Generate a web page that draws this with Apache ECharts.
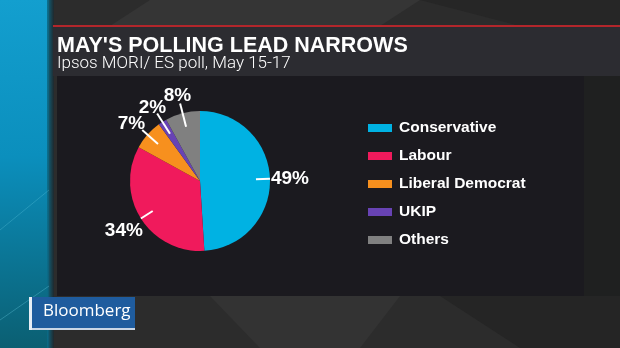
<!DOCTYPE html>
<html>
<head>
<meta charset="utf-8">
<script src="https://cdn.jsdelivr.net/npm/echarts@6/dist/echarts.min.js"></script>
<style>
  html, body { margin: 0; padding: 0; background: #2b2b2b; }
  #chart { width: 620px; height: 348px; }
</style>
</head>
<body>
<div id="chart"></div>
<script>
// Poll shares (%)
const parties = ['Conservative', 'Labour', 'Liberal Democrat', 'UKIP', 'Others'];
const shares = [49, 34, 7, 2, 8];
const partyColors = ['#00b2e3', '#f01a5c', '#f7901e', '#6843b4', '#808080'];

const titleText = "MAY'S POLLING LEAD NARROWS";
const subtitleText = 'Ipsos MORI/ ES poll, May 15-17';
const brandText = 'Bloomberg';

// leader line length per slice and nudges for the value labels
const leaderLen = [14, 14, 21, 24, 24];
const labelNudge = [[0, 0], [3, 12], [4, -6], [10, -6], [12, -8]];

const pieCenter = [200, 181];
const pieRadius = 70;

const chart = echarts.init(document.getElementById('chart'), null, { renderer: 'canvas' });

const sliceData = parties.map((name, i) => ({
  name: name,
  value: shares[i],
  itemStyle: { color: partyColors[i] }
}));

const labelData = parties.map((name, i) => ({
  name: name,
  value: shares[i],
  labelLine: { length: leaderLen[i], length2: 0 }
}));

const bg = [
  // charcoal backdrop
  { type: 'rect', z: -10, shape: { x: 0, y: 0, width: 620, height: 348 }, style: { fill: '#2c2c2c' } },
  // faceted top band
  { type: 'polygon', z: -9, shape: { points: [[150, 0], [420, 0], [380, 26], [110, 26]] }, style: { fill: '#353535' } },
  { type: 'polygon', z: -9, shape: { points: [[420, 0], [620, 0], [620, 26], [520, 26]] }, style: { fill: '#262626' } },
  // faceted bottom band
  { type: 'polygon', z: -9, shape: { points: [[210, 296], [400, 296], [360, 348], [260, 348]] }, style: { fill: '#333333' } },
  { type: 'polygon', z: -9, shape: { points: [[440, 296], [620, 296], [620, 348], [520, 348]] }, style: { fill: '#252525' } },
  // right margin
  { type: 'rect', z: -9, shape: { x: 584, y: 76, width: 36, height: 220 }, style: { fill: '#1f2020' } },
  // teal strip on the left
  {
    type: 'rect', z: -8, shape: { x: 0, y: 0, width: 49, height: 348 },
    style: {
      fill: new echarts.graphic.LinearGradient(0, 0, 0.3, 1, [
        { offset: 0, color: '#139fcf' },
        { offset: 0.45, color: '#0b8fbd' },
        { offset: 1, color: '#0b5f72' }
      ])
    }
  },
  {
    type: 'rect', z: -8, shape: { x: 47, y: 0, width: 7, height: 348 },
    style: {
      fill: new echarts.graphic.LinearGradient(0, 0, 1, 0, [
        { offset: 0, color: 'rgba(10,110,140,0.9)' },
        { offset: 1, color: 'rgba(30,40,45,0.9)' }
      ])
    }
  },
  { type: 'line', z: -7, shape: { x1: 0, y1: 230, x2: 49, y2: 190 }, style: { stroke: 'rgba(120,220,240,0.25)', lineWidth: 1 } },
  { type: 'line', z: -7, shape: { x1: 0, y1: 320, x2: 49, y2: 286 }, style: { stroke: 'rgba(120,220,240,0.3)', lineWidth: 1 } },
  // red rule and title panel
  { type: 'rect', z: -6, shape: { x: 53, y: 25, width: 567, height: 2 }, style: { fill: '#b3262b' } },
  { type: 'rect', z: -6, shape: { x: 53, y: 27, width: 567, height: 49 }, style: { fill: '#2c2c31' } },
  // chart panel
  { type: 'rect', z: -6, shape: { x: 57, y: 76, width: 527, height: 220 }, style: { fill: '#1b1a1f' } },
  // heading
  {
    type: 'text', z: 5, x: 57, y: 35,
    style: { text: titleText, fill: '#ffffff', font: 'bold 21.5px "Liberation Sans", Arial, sans-serif' }
  },
  {
    type: 'text', z: 5, x: 57, y: 55,
    style: { text: subtitleText, fill: '#ffffff', font: '300 17px Roboto, "Liberation Sans", sans-serif' }
  },
  // brand tag
  { type: 'rect', z: 5, shape: { x: 29, y: 297, width: 3, height: 33 }, style: { fill: '#e8eef5' } },
  { type: 'rect', z: 5, shape: { x: 32, y: 297, width: 103, height: 31 }, style: { fill: '#1f5c9e' } },
  { type: 'rect', z: 5, shape: { x: 32, y: 328, width: 103, height: 2 }, style: { fill: '#c9d6e6' } },
  {
    type: 'text', z: 6, x: 43, y: 303,
    style: { text: brandText, fill: '#ffffff', font: '500 17px "Open Sans", "Noto Sans", sans-serif' }
  }
];

chart.setOption({
  animation: false,
  backgroundColor: 'transparent',
  graphic: { elements: bg },
  legend: {
    data: parties,
    orient: 'vertical',
    left: 363,
    top: 115,
    itemWidth: 24,
    itemHeight: 8,
    itemGap: 12,
    icon: 'rect',
    selectedMode: false,
    textStyle: {
      color: '#ffffff',
      fontSize: 15.5,
      lineHeight: 16,
      fontWeight: 'bold',
      fontFamily: '"Liberation Sans", Arial, sans-serif',
      padding: [0, 0, 0, 2]
    }
  },
  series: [
    {
      type: 'pie',
      z: 2,
      center: pieCenter,
      radius: pieRadius,
      startAngle: 90,
      clockwise: true,
      silent: true,
      label: { show: false },
      labelLine: { show: false },
      data: sliceData
    },
    {
      // value labels with leader lines starting inside the slices
      type: 'pie',
      z: 4,
      center: pieCenter,
      radius: pieRadius - 14,
      startAngle: 90,
      clockwise: true,
      silent: true,
      avoidLabelOverlap: false,
      itemStyle: { color: 'rgba(0,0,0,0)' },
      label: {
        show: true,
        position: 'outside',
        formatter: p => p.value + '%',
        color: '#ffffff',
        fontSize: 19,
        fontWeight: 'bold',
        fontFamily: '"Liberation Sans", Arial, sans-serif',
        distanceToLabelLine: 1
      },
      labelLine: {
        show: true,
        lineStyle: { color: '#ffffff', width: 2 }
      },
      labelLayout: function (params) {
        const n = labelNudge[params.dataIndex] || [0, 0];
        return { dx: n[0], dy: n[1] };
      },
      data: labelData
    }
  ]
});
</script>
</body>
</html>
